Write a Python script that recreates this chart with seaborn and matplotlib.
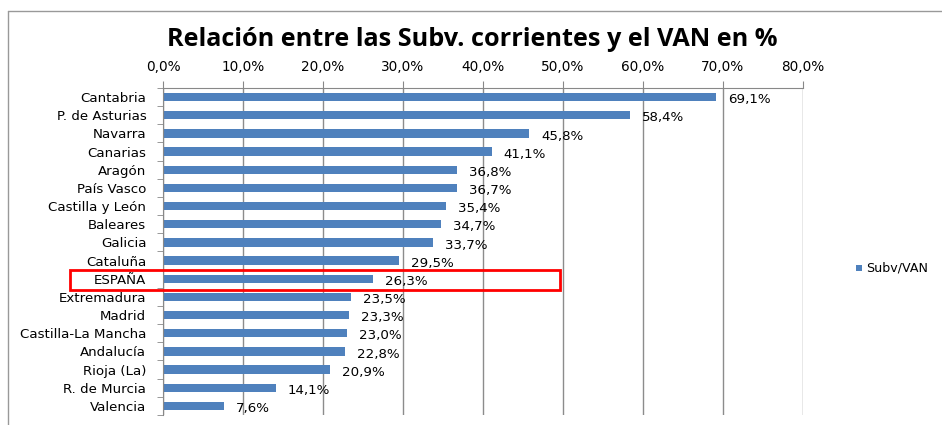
import matplotlib
matplotlib.use("Agg")
import matplotlib.pyplot as plt
import seaborn as sns
import pandas as pd
from matplotlib.patches import Rectangle
from matplotlib.lines import Line2D

regions = ["Cantabria", "P. de Asturias", "Navarra", "Canarias", "Aragón", "País Vasco",
           "Castilla y León", "Baleares", "Galicia", "Cataluña", "ESPAÑA", "Extremadura",
           "Madrid", "Castilla-La Mancha", "Andalucía", "Rioja (La)", "R. de Murcia", "Valencia"]
values = [69.1, 58.4, 45.8, 41.1, 36.8, 36.7, 35.4, 34.7, 33.7, 29.5, 26.3, 23.5,
          23.3, 23.0, 22.8, 20.9, 14.1, 7.6]
xticks = [0, 10, 20, 30, 40, 50, 60, 70, 80]
series_name = "Subv/VAN"
title = "Relación entre las Subv. corrientes y el VAN en %"

df = pd.DataFrame({"region": regions, "value": values})

sns.set_style("white")
plt.rcParams["font.family"] = ["DejaVu Sans"]
plt.rcParams["text.color"] = "black"
plt.rcParams["xtick.labelcolor"] = "black"
plt.rcParams["ytick.labelcolor"] = "black"

W, H = 942, 425
fig = plt.figure(figsize=(W / 100, H / 100), dpi=100)
ax = fig.add_axes([163 / W, 1 - 415 / H, (803 - 163) / W, (415 - 88) / H])

sns.barplot(data=df, x="value", y="region", orient="h", color="#4F81BD",
            width=0.46, ax=ax, label=series_name, saturation=1, edgecolor="none")

ax.set_xlim(0, 80)
ax.set_ylim(len(regions) - 0.5, -0.5)
ax.set_xticks(xticks)
ax.set_xticklabels([f"{t:.1f}%".replace(".", ",") for t in xticks], fontsize=9.8)
ax.xaxis.tick_top()
ax.tick_params(axis="x", top=True, bottom=False, length=5, color="#888888", pad=5,
               labelcolor="black")
ax.tick_params(axis="y", left=True, length=4, color="#888888", pad=8, labelsize=9.6,
               labelcolor="black")
ax.set_yticks([i - 0.5 for i in range(len(regions) + 1)], minor=True)
ax.tick_params(axis="y", which="minor", left=True, length=4, color="#888888")
ax.tick_params(axis="y", which="major", left=False)
ax.set_xlabel("")
ax.set_ylabel("")
ax.grid(axis="x", color="#8c8c8c", linewidth=1, linestyle="-")
ax.set_axisbelow(True)
for s in ["right", "bottom"]:
    ax.spines[s].set_visible(False)
ax.spines["top"].set_color("#888888")
ax.spines["left"].set_color("#888888")

for i, v in enumerate(values):
    ax.text(v + 1.5, i + 0.15, f"{v:.1f}%".replace(".", ","), va="center", ha="left",
            fontsize=9.6, color="black")

fig.text(472 / W, 1 - 40 / H, title, ha="center", va="center", fontsize=18.2,
         fontweight="bold", family=["Open Sans", "DejaVu Sans"], color="black")

# legend
fig.patches.append(Rectangle((856 / W, 1 - 271 / H), 6 / W, 6 / H, transform=fig.transFigure,
                             facecolor="#4F81BD", edgecolor="none"))
fig.text(866 / W, 1 - 268 / H, series_name, ha="left", va="center", fontsize=9.1, color="black")
if ax.get_legend() is not None:
    ax.get_legend().remove()

# highlight box around ESPAÑA
fig.patches.append(Rectangle((70 / W, 1 - 290 / H), 490 / W, 20 / H, transform=fig.transFigure,
                             facecolor="none", edgecolor="#FF0000", linewidth=2))

# chart area border
fig.lines.append(Line2D([8 / W, 8 / W], [0, 1 - 11 / H], transform=fig.transFigure, color="#999999", lw=1))
fig.lines.append(Line2D([8 / W, 1], [1 - 11 / H, 1 - 11 / H], transform=fig.transFigure, color="#999999", lw=1))

fig.savefig("out.png", dpi=100)
